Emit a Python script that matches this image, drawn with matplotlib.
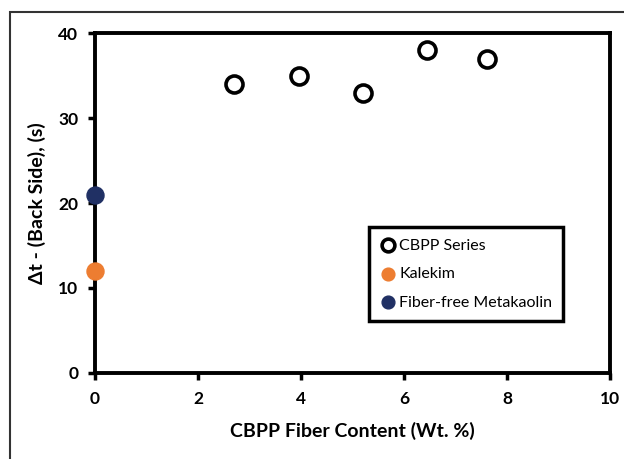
"""Back-side temperature delay vs CBPP fiber content."""

import matplotlib
matplotlib.use("Agg")
import matplotlib.pyplot as plt
from matplotlib.patches import Rectangle

plt.rcParams["font.family"] = ["Lato", "DejaVu Sans"]

cbpp_content = [2.69, 3.97, 5.21, 6.44, 7.62]
cbpp_dt = [34, 35, 33, 38, 37]
kalekim_content = [0]
kalekim_dt = [12]
metakaolin_content = [0]
metakaolin_dt = [21]

x_ticks = [0, 2, 4, 6, 8, 10]
y_ticks = [0, 10, 20, 30, 40]

fig = plt.figure(figsize=(6.24, 4.59), dpi=100)
ax = fig.add_axes([0.1522, 0.1874, 0.8254, 0.7406])

# outer frame of the cropped figure
fig.patches.append(Rectangle((10 / 624, -0.1), 1.2, 0.974 + 0.1, transform=fig.transFigure,
                             fill=False, edgecolor="#333333", linewidth=1.5))

ax.scatter(cbpp_content, cbpp_dt, s=150, facecolor="white", edgecolor="black",
           linewidth=2.6, label="CBPP Series", zorder=3, clip_on=False)
ax.scatter(kalekim_content, kalekim_dt, s=150, color="#ED7D31", label="Kalekim",
           zorder=3, clip_on=False)
ax.scatter(metakaolin_content, metakaolin_dt, s=150, color="#203064",
           label="Fiber-free Metakaolin", zorder=3, clip_on=False)

ax.set_xlim(0, 10)
ax.set_ylim(0, 40)
ax.set_xticks(x_ticks)
ax.set_yticks(y_ticks)
for s in ax.spines.values():
    s.set_linewidth(2.8)
ax.tick_params(direction="out", length=5, width=2.5, labelsize=12.5)
ax.tick_params(axis="x", pad=8)
ax.tick_params(axis="y", pad=7)
for lbl in ax.get_xticklabels() + ax.get_yticklabels():
    lbl.set_fontweight("bold")

ax.set_xlabel("CBPP Fiber Content (Wt. %)", fontsize=14, fontweight="bold", labelpad=11)
ax.set_ylabel("Δt - (Back Side), (s)", fontsize=14, fontweight="bold", labelpad=9)

leg = ax.legend(loc="lower right", bbox_to_anchor=(0.925, 0.13), fontsize=11.5,
                frameon=True, fancybox=False, framealpha=1, edgecolor="black",
                handletextpad=0.2, borderpad=0.7, labelspacing=0.9, handlelength=1.0,
                markerscale=0.75)
leg.get_frame().set_linewidth(2.5)

fig.savefig("out.png", dpi=100)
